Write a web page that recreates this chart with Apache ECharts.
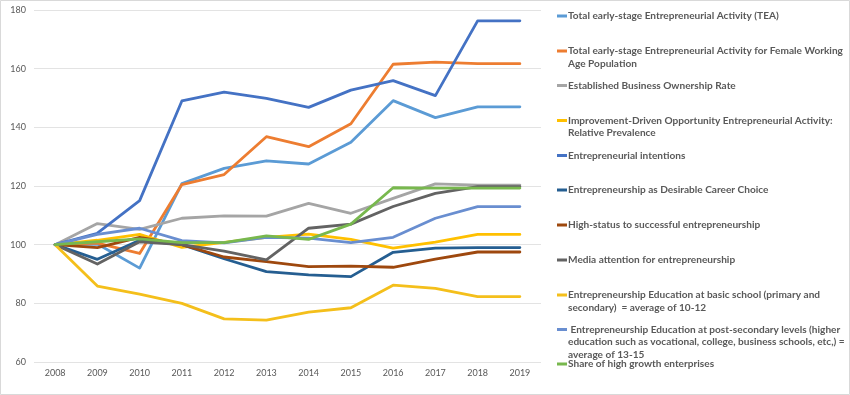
<!DOCTYPE html>
<html>
<head>
<meta charset="utf-8">
<script src="https://cdn.jsdelivr.net/npm/echarts@6/dist/echarts.min.js"></script>
<style>
html,body{margin:0;padding:0;background:#fff;}
#chart{width:850px;height:395px;}
</style>
</head>
<body>
<div id="chart"></div>
<script>
const years = ['2008','2009','2010','2011','2012','2013','2014','2015','2016','2017','2018','2019'];
const yTicks = { min: 60, max: 180, interval: 20 };

const seriesNames = [
  'Total early-stage Entrepreneurial Activity (TEA)',
  'Total early-stage Entrepreneurial Activity for Female Working Age Population',
  'Established Business Ownership Rate',
  'Improvement-Driven Opportunity Entrepreneurial Activity: Relative Prevalence',
  'Entrepreneurial intentions',
  'Entrepreneurship as Desirable Career Choice',
  'High-status to successful entrepreneurship',
  'Media attention for entrepreneurship',
  'Entrepreneurship Education at basic school (primary and secondary)  = average of 10-12',
  ' Entrepreneurship Education at post-secondary levels (higher education such as vocational, college, business schools, etc,) = average of 13-15',
  'Share of high growth enterprises'
];
const legendLabels = [
  'Total early-stage Entrepreneurial Activity (TEA)',
  'Total early-stage Entrepreneurial Activity for Female Working\nAge Population',
  'Established Business Ownership Rate',
  'Improvement-Driven Opportunity Entrepreneurial Activity:\nRelative Prevalence',
  'Entrepreneurial intentions',
  'Entrepreneurship as Desirable Career Choice',
  'High-status to successful entrepreneurship',
  'Media attention for entrepreneurship',
  'Entrepreneurship Education at basic school (primary and\nsecondary)  = average of 10-12',
  ' Entrepreneurship Education at post-secondary levels (higher\neducation such as vocational, college, business schools, etc,) =\naverage of 13-15',
  'Share of high growth enterprises'
];

const tea         = [100, 100.2, 92, 120.8, 126, 128.6, 127.5, 134.9, 149.1, 143.3, 147, 147];
const teaFemale   = [100, 100.5, 97, 120.5, 123.9, 136.8, 133.4, 141.2, 161.5, 162.2, 161.7, 161.7];
const established = [100, 107.2, 105.2, 109, 109.8, 109.7, 114.1, 110.7, 115.8, 120.7, 120.3, 120.3];
const improvement = [100, 101.5, 103.5, 99.1, 100.8, 102.5, 103.6, 101.8, 98.8, 100.9, 103.5, 103.5];
const intentions  = [100, 103.9, 115, 149, 152, 149.9, 146.8, 152.7, 155.9, 150.8, 176.3, 176.3];
const career      = [100, 95, 101.5, 100, 95.2, 90.8, 89.7, 89.1, 97.4, 98.8, 99, 99];
const highStatus  = [100, 99, 102.5, 100, 95.8, 94.2, 92.5, 92.7, 92.3, 95.1, 97.5, 97.5];
const media       = [100, 93.4, 101, 100, 97.8, 94.8, 105.6, 107, 113, 117.5, 119.8, 119.8];
const eduBasic    = [100, 85.9, 83.1, 80, 74.7, 74.3, 77, 78.5, 86.2, 85.1, 82.3, 82.3];
const eduPost     = [100, 103.5, 105.6, 101.4, 100.6, 102.5, 102.2, 100.7, 102.5, 109, 113, 113];
const highGrowth  = [100, 101, 102, 100.7, 100.7, 103, 101.8, 107, 119.4, 119.3, 119.3, 119.3];

const allData = [tea, teaFemale, established, improvement, intentions, career, highStatus, media, eduBasic, eduPost, highGrowth];
const colors = ['#5B9BD5','#ED7D31','#A5A5A5','#FFC000','#4472C4','#255E91','#9E480E','#636363','#F4BF1B','#698ED0','#78B84E'];
const legendTops = [9.5, 44.5, 79, 114, 149, 183.5, 218.5, 253.5, 288.5, 323, 357.5];

const LH = 12.7;
const labelMap = {};
seriesNames.forEach((n, i) => { labelMap[n] = legendLabels[i]; });

const legends = seriesNames.map((n, i) => {
  const lines = legendLabels[i].split('\n').length;
  const H = +(lines * LH).toFixed(2);
  const icon = 'path://M0,0L0.01,0L0.01,0.01Z M0,5L10,5L10,8L0,8Z M0,' + H + 'L0.01,' + H + 'L0.01,' + (H - 0.01) + 'Z';
  return {
    data: [n],
    left: 557,
    top: legendTops[i],
    padding: 0,
    orient: 'vertical',
    selectedMode: false,
    icon: icon,
    itemWidth: 10,
    itemHeight: H,
    formatter: (name) => labelMap[name],
    textStyle: {
      fontFamily: 'Lato, sans-serif',
      fontSize: 10.1,
      fontWeight: 'bold',
      color: '#595959',
      lineHeight: LH,
      padding: [0, 0, 0, -4]
    }
  };
});

const chart = echarts.init(document.getElementById('chart'), null, { renderer: 'canvas' });
chart.setOption({
  animation: false,
  backgroundColor: '#fff',
  color: colors,
  grid: { left: 34, right: 309, top: 10, bottom: 33, containLabel: false },
  legend: legends,
  xAxis: {
    type: 'category',
    data: years,
    boundaryGap: true,
    axisLine: { show: false },
    axisTick: { show: false },
    axisLabel: { color: '#595959', fontSize: 9, fontFamily: 'Lato, sans-serif', margin: 7 }
  },
  yAxis: {
    type: 'value',
    min: yTicks.min,
    max: yTicks.max,
    interval: yTicks.interval,
    axisLine: { show: false },
    axisTick: { show: false },
    axisLabel: { color: '#595959', fontSize: 9, fontFamily: 'Lato, sans-serif', margin: 8 },
    splitLine: { lineStyle: { color: '#E3E3E3', width: 1 } }
  },
  graphic: [{
    type: 'rect',
    shape: { x: 0.5, y: 0.5, width: 849, height: 394 },
    style: { fill: 'none', stroke: '#D9D9D9', lineWidth: 1 },
    silent: true,
    z: -1
  }],
  series: seriesNames.map((n, i) => ({
    name: n,
    type: 'line',
    data: allData[i],
    symbol: 'none',
    lineStyle: { width: 2.8, color: colors[i], cap: 'round', join: 'round' },
    itemStyle: { color: colors[i] }
  }))
});
</script>
</body>
</html>
